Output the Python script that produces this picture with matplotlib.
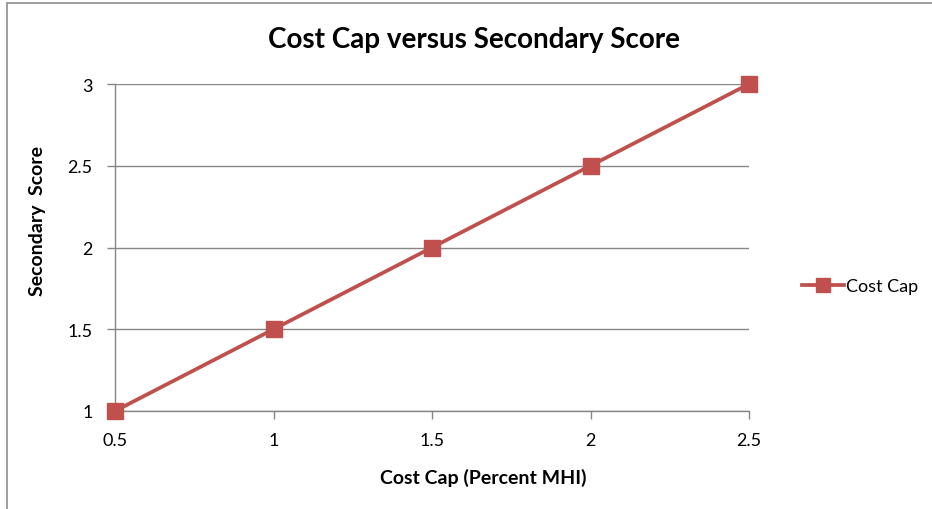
import matplotlib
matplotlib.use('Agg')
import matplotlib.pyplot as plt
from matplotlib.patches import Rectangle

plt.rcParams['font.family'] = ['Lato', 'DejaVu Sans']

# data
cost_cap = [0.5, 1.0, 1.5, 2.0, 2.5]
secondary_score = [1.0, 1.5, 2.0, 2.5, 3.0]
x_ticks = [0.5, 1, 1.5, 2, 2.5]
y_ticks = [1, 1.5, 2, 2.5, 3]
x_tick_labels = ['0.5', '1', '1.5', '2', '2.5']
y_tick_labels = ['1', '1.5', '2', '2.5', '3']

W, H = 932, 510
fig = plt.figure(figsize=(W / 100, H / 100), dpi=100)

# outer chart border (open on the right/bottom, as in the crop)
fig.patches.append(Rectangle((7 / W, -0.1), 1.2, 1 - 4 / H + 0.1,
                             transform=fig.transFigure, fill=False,
                             edgecolor='#8c8c8c', linewidth=1.2))

ax = fig.add_axes([115 / W, 1 - 412 / H, (749 - 115) / W, (412 - 85) / H])
grid_c = '#868686'
ax.plot(cost_cap, secondary_score, color='#C0504D', linewidth=2.7,
        marker='s', markersize=11.5, markeredgecolor='#C0504D',
        label='Cost Cap', clip_on=False, zorder=5)

ax.set_xlim(0.5, 2.5)
ax.set_ylim(1, 3)
ax.set_xticks(x_ticks)
ax.set_xticklabels(x_tick_labels)
ax.set_yticks(y_ticks)
ax.set_yticklabels(y_tick_labels)
ax.yaxis.grid(True, color=grid_c, linewidth=1.0)
ax.set_axisbelow(True)
for s in ('top', 'right'):
    ax.spines[s].set_visible(False)
for s in ('left', 'bottom'):
    ax.spines[s].set_color(grid_c)
    ax.spines[s].set_linewidth(1.0)
ax.tick_params(axis='both', colors=grid_c, labelcolor='black',
               labelsize=13, length=6, width=1.0)
ax.tick_params(axis='x', pad=9)
ax.tick_params(axis='y', pad=10)

# titles placed like the Excel chart (centred over the whole chart area)
fig.text(474 / W, 1 - 40 / H, 'Cost Cap versus Secondary Score',
         fontsize=20, fontweight='bold', ha='center', va='center')
fig.text(483 / W, 1 - 478 / H, 'Cost Cap (Percent MHI)', fontsize=14,
         fontweight='bold', ha='center', va='center')
fig.text(38 / W, 1 - 221 / H, 'Secondary  Score', fontsize=14,
         fontweight='bold', ha='center', va='center', rotation=90)

fig.legend(loc='center left', bbox_to_anchor=(793 / W, 1 - 287 / H),
           frameon=False, fontsize=13, handlelength=2.3,
           handletextpad=0.15, borderpad=0, markerscale=0.85)

fig.savefig('out.png', dpi=100)
